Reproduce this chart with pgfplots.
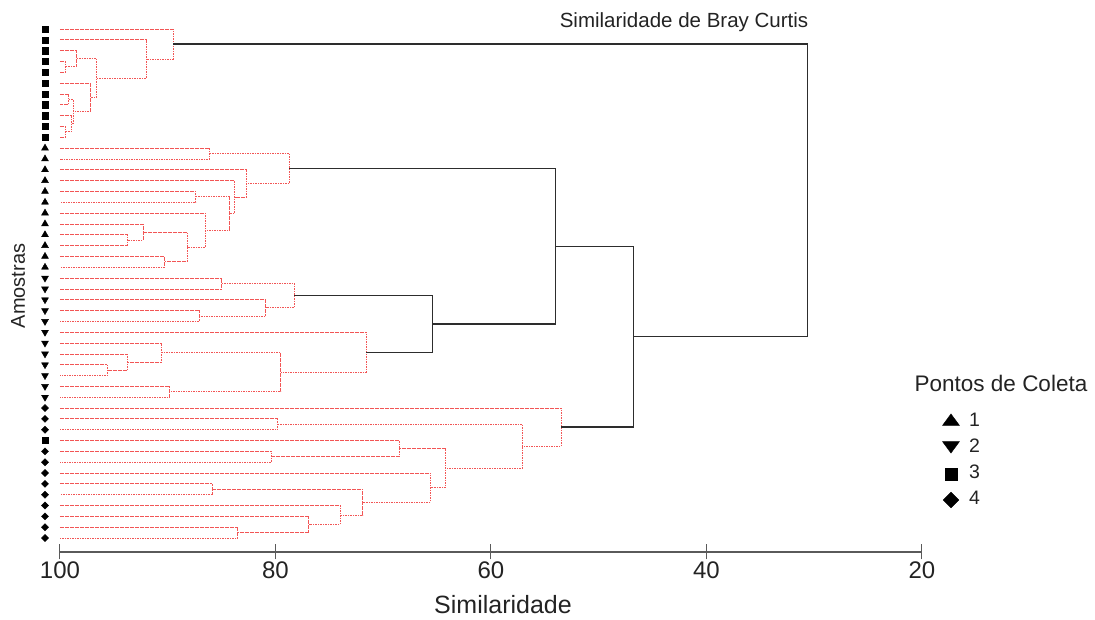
\documentclass[border=0pt]{standalone}
\usepackage{fontspec}
\setmainfont{Liberation Sans}
\usepackage{pgfplots}
\pgfplotsset{compat=1.18}

\definecolor{dendred}{RGB}{242,85,85}
\definecolor{dendblack}{RGB}{45,45,45}
\definecolor{txt}{RGB}{35,35,35}
\definecolor{axisgray}{RGB}{90,90,90}

\tikzset{
  rl/.style={dendred, line width=0.8pt, dash pattern=on 1.6pt off 0.9pt},
  bl/.style={dendblack, line width=1.3pt},
}

% one merge of the dendrogram:
% \merge[style]{y of child a}{similarity of a}{y of child b}{similarity of b}{similarity of the join}
\newcommand{\merge}[6][rl]{%
  \addplot[#1] coordinates {(#3,#2) (#6,#2) (#6,#4) (#5,#4)};}

\begin{document}
\begin{tikzpicture}
\useasboundingbox (-60pt,-68pt) rectangle (1035pt,552pt);
\begin{axis}[
  scale only axis,
  width=862pt, height=532pt,
  xmin=20, xmax=100, x dir=reverse,
  ymin=-49.29, ymax=-0.17,
  y filter/.expression={-y},
  clip=false,
  axis x line*=bottom, axis y line=none,
  x axis line style={axisgray, line width=1.1pt, -},
  xtick={20,40,60,80,100},
  tick align=center,
  major tick length=15pt,
  every tick/.style={axisgray, line width=1pt},
  xticklabel style={font=\fontsize{24}{28}\selectfont, text=txt, inner sep=0pt, anchor=north, yshift=-2pt},
  /pgf/number format/assume math mode=true,
]

% ---- group 1 (leaves 1-11)
\merge{4}{100}{5}{100}{99.5}
\merge{3}{100}{4.5}{99.5}{98.45}
\merge{7}{100}{8}{100}{99.2}
\merge{10}{100}{11}{100}{99.5}
\merge{9}{100}{10.5}{99.5}{98.9}
\merge{7.5}{99.2}{9.75}{98.9}{98.8}
\merge{6}{100}{8.625}{98.8}{97.2}
\merge{3.75}{98.45}{7.3125}{97.2}{96.6}
\merge{2}{100}{5.53125}{96.6}{92.0}
\merge{1}{100}{3.765625}{92.0}{89.5}

% ---- group 2 (leaves 12-23)
\merge{12}{100}{13}{100}{86.1}
\merge{16}{100}{17}{100}{87.4}
\merge{20}{100}{21}{100}{93.7}
\merge{19}{100}{20.5}{93.7}{92.3}
\merge{22}{100}{23}{100}{90.3}
\merge{19.75}{92.3}{22.5}{90.3}{88.2}
\merge{18}{100}{21.125}{88.2}{86.5}
\merge{16.5}{87.4}{19.5625}{86.5}{84.3}
\merge{15}{100}{18.03125}{84.3}{83.8}
\merge{14}{100}{16.515625}{83.8}{82.7}
\merge{12.5}{86.1}{15.2578}{82.7}{78.7}

% ---- group 3 (leaves 24-35)
\merge{24}{100}{25}{100}{85.0}
\merge{27}{100}{28}{100}{87.1}
\merge{26}{100}{27.5}{87.1}{80.9}
\merge{24.5}{85.0}{26.75}{80.9}{78.25}
\merge{32}{100}{33}{100}{95.6}
\merge{31}{100}{32.5}{95.6}{93.7}
\merge{30}{100}{31.75}{93.7}{90.6}
\merge{34}{100}{35}{100}{89.8}
\merge{30.875}{90.6}{34.5}{89.8}{79.5}
\merge{29}{100}{32.6875}{79.5}{71.6}
\merge[bl]{25.625}{78.25}{30.84375}{71.6}{65.4}
\merge[bl]{13.8789}{78.7}{28.234}{65.4}{54.0}

% ---- group 4 (leaves 36-48)
\merge{37}{100}{38}{100}{79.8}
\merge{40}{100}{41}{100}{80.4}
\merge{39}{100}{40.5}{80.4}{68.5}
\merge{43}{100}{44}{100}{85.9}
\merge{47}{100}{48}{100}{83.5}
\merge{46}{100}{47.5}{83.5}{76.9}
\merge{45}{100}{46.75}{76.9}{74.0}
\merge{43.5}{85.9}{45.875}{74.0}{71.9}
\merge{42}{100}{44.6875}{71.9}{65.6}
\merge{39.75}{68.5}{43.34375}{65.6}{64.2}
\merge{37.5}{79.8}{41.546875}{64.2}{57.1}
\merge{36}{100}{39.5234}{57.1}{53.5}

% ---- top of the tree
\merge[bl]{21.0566}{54.0}{37.7617}{53.5}{46.8}
\merge[bl]{2.3828}{89.5}{29.409}{46.8}{30.6}

% ---- sample symbols (collection point of each leaf)
\addplot[only marks, mark=triangle*, mark size=4pt, black] coordinates {
  (101.39,12) (101.39,13) (101.39,14) (101.39,15) (101.39,16) (101.39,17)
  (101.39,18) (101.39,19) (101.39,20) (101.39,21) (101.39,22) (101.39,23)};
\addplot[only marks, mark=triangle*, mark size=4pt, black, mark options={rotate=180}] coordinates {
  (101.39,24) (101.39,25) (101.39,26) (101.39,27) (101.39,28) (101.39,29)
  (101.39,30) (101.39,31) (101.39,32) (101.39,33) (101.39,34) (101.39,35)};
\addplot[only marks, mark=square*, mark size=3.1pt, black] coordinates {
  (101.39,1) (101.39,2) (101.39,3) (101.39,4) (101.39,5) (101.39,6)
  (101.39,7) (101.39,8) (101.39,9) (101.39,10) (101.39,11) (101.39,39)};
\addplot[only marks, mark=square*, mark size=2.5pt, black, mark options={rotate=45}] coordinates {
  (101.39,36) (101.39,37) (101.39,38) (101.39,40) (101.39,41) (101.39,42)
  (101.39,43) (101.39,44) (101.39,45) (101.39,46) (101.39,47) (101.39,48)};

% ---- key symbols
\addplot[only marks, mark=triangle*, mark size=8.5pt, black, mark options={xscale=1.15, yscale=0.9}] coordinates {(17.31,37.25)};
\addplot[only marks, mark=triangle*, mark size=8.5pt, black, mark options={rotate=180, xscale=1.15, yscale=0.9}] coordinates {(17.31,39.45)};
\addplot[only marks, mark=square*, mark size=6pt, black] coordinates {(17.31,42.09)};
\addplot[only marks, mark=square*, mark size=5.5pt, black, mark options={rotate=45}] coordinates {(17.31,44.49)};
\end{axis}

\node[txt, font=\fontsize{20.5}{24}\selectfont, anchor=base] at (624pt,524.5pt) {Similaridade de Bray Curtis};
\node[txt, font=\fontsize{20}{24}\selectfont, anchor=base, rotate=90] at (-35pt,266pt) {Amostras};
\node[txt, font=\fontsize{25}{30}\selectfont, anchor=base] at (443pt,-62pt) {Similaridade};
\node[txt, font=\fontsize{22.5}{27}\selectfont, anchor=base] at (941pt,160pt) {Pontos de Coleta};
\begin{scope}[every node/.style={txt, font=\fontsize{19.5}{23}\selectfont, anchor=base west, inner sep=0pt}]
  \node at (909pt,125pt) {1};
  \node at (909pt,99pt) {2};
  \node at (909pt,73pt) {3};
  \node at (909pt,47pt) {4};
\end{scope}
\end{tikzpicture}
\end{document}
